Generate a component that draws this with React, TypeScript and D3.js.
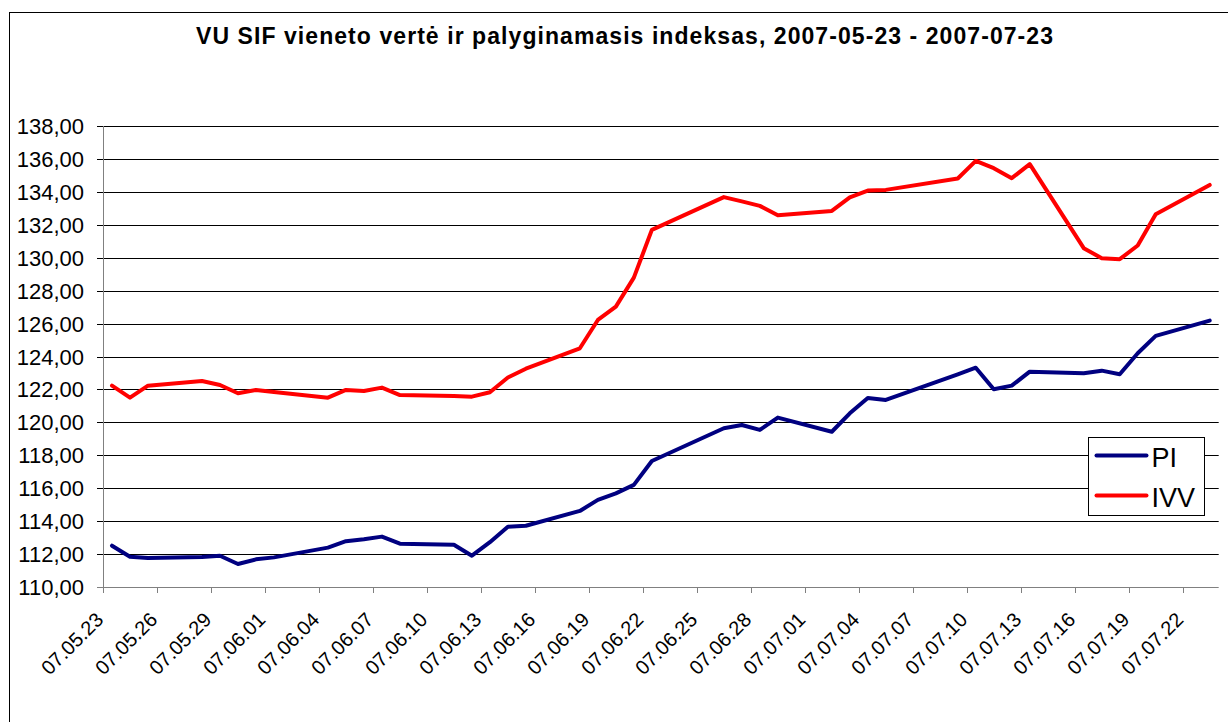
import React from "react";
import * as d3 from "d3";

const width = 1228;
const height = 722;

// trading days
const dates = [
  "2007-05-23", "2007-05-24", "2007-05-25", "2007-05-28", "2007-05-29", "2007-05-30",
  "2007-05-31", "2007-06-01", "2007-06-04", "2007-06-05", "2007-06-06", "2007-06-07",
  "2007-06-08", "2007-06-11", "2007-06-12", "2007-06-13", "2007-06-14", "2007-06-15",
  "2007-06-18", "2007-06-19", "2007-06-20", "2007-06-21", "2007-06-22", "2007-06-26",
  "2007-06-27", "2007-06-28", "2007-06-29", "2007-07-02", "2007-07-03", "2007-07-04",
  "2007-07-05", "2007-07-09", "2007-07-10", "2007-07-11", "2007-07-12", "2007-07-13",
  "2007-07-16", "2007-07-17", "2007-07-18", "2007-07-19", "2007-07-20", "2007-07-23",
];

const pi = [
  112.51, 111.84, 111.76, 111.82, 111.9, 111.4, 111.68, 111.8, 112.39, 112.78, 112.9, 113.06,
  112.63, 112.57, 111.9, 112.72, 113.66, 113.72, 114.62, 115.29, 115.69, 116.2, 117.65, 119.64,
  119.84, 119.54, 120.29, 119.43, 120.55, 121.48, 121.36, 122.92, 123.32, 122.01, 122.23, 123.08,
  122.98, 123.14, 122.92, 124.2, 125.25, 126.18,
];

const ivv = [
  122.23, 121.5, 122.23, 122.51, 122.27, 121.77, 121.97, 121.85, 121.5, 121.97, 121.91, 122.11,
  121.66, 121.6, 121.56, 121.83, 122.72, 123.26, 124.5, 126.22, 127.03, 128.79, 131.69, 133.68,
  133.42, 133.15, 132.58, 132.84, 133.66, 134.08, 134.12, 134.81, 135.88, 135.44, 134.83, 135.68,
  130.58, 129.97, 129.91, 130.74, 132.64, 134.42,
];

const yTicks = [110, 112, 114, 116, 118, 120, 122, 124, 126, 128, 130, 132, 134, 136, 138];

const seriesNames = ["PI", "IVV"];
const seriesColors = ["#000080", "#FF0000"];

const title = "VU SIF vieneto vertė ir palyginamasis indeksas, 2007-05-23 - 2007-07-23";

const margin = { left: 103, right: 1218.7, top: 126, bottom: 587 };

const parse = d3.utcParse("%Y-%m-%d");
const fmtDate = d3.utcFormat("%y.%m.%d");
const fmtY = (v: number) => d3.format(".2f")(v).replace(".", ",");

const font = "'Liberation Sans', Arial, sans-serif";

const App = () => {
  const start = parse(dates[0]) as Date;
  const end = d3.utcDay.offset(parse(dates[dates.length - 1]) as Date, 1);

  const xScale = d3.scaleUtc().domain([start, end]).range([margin.left, margin.right]);
  const yScale = d3.scaleLinear().domain([110, 138]).range([margin.bottom, margin.top]);

  // points sit in the middle of their day, like Excel's date axis
  const xOf = (s: string) => xScale(d3.utcHour.offset(parse(s) as Date, 12));

  const lineGen = d3
    .line<number>()
    .x((_, i) => xOf(dates[i]))
    .y((v) => yScale(v));

  const xTicks = d3.utcDay.range(start, d3.utcDay.offset(end, -1), 3);

  const legendX = 1088.5;
  const legendY = 437.5;

  return (
    <svg
      width={width}
      height={height}
      style={{ position: "absolute", left: 0, top: 0, background: "#fff" }}
      fontFamily={font}
    >
      <rect x={9.5} y={12.5} width={width + 20} height={height + 20} fill="#fff" stroke="#000" strokeWidth={1} />

      <text
        x={624.5}
        y={44}
        textAnchor="middle"
        fontSize={23}
        fontWeight="bold"
        textLength={857}
        lengthAdjust="spacing"
      >
        {title}
      </text>

      {yTicks.map((t) => (
        <g key={t}>
          <line
            x1={margin.left - 6}
            x2={margin.right}
            y1={Math.round(yScale(t)) + 0.5}
            y2={Math.round(yScale(t)) + 0.5}
            stroke={t === 110 ? "#808080" : "#000"}
            strokeWidth={1}
          />
          <text x={84} y={yScale(t) + 8} textAnchor="end" fontSize={22}>
            {fmtY(t)}
          </text>
        </g>
      ))}

      <line x1={margin.left + 0.5} x2={margin.left + 0.5} y1={margin.top} y2={margin.bottom} stroke="#808080" />

      {xTicks.map((d) => {
        const x = Math.round(xScale(d)) + 0.5;
        return (
          <g key={d.toISOString()}>
            <line x1={x} x2={x} y1={margin.bottom} y2={margin.bottom + 6} stroke="#808080" />
            <text
              transform={`translate(${x + 1},${margin.bottom + 34}) rotate(-45)`}
              textAnchor="end"
              fontSize={20}
            >
              {fmtDate(d)}
            </text>
          </g>
        );
      })}

      {[pi, ivv].map((vals, k) => (
        <path
          key={seriesNames[k]}
          d={lineGen(vals) || ""}
          fill="none"
          stroke={seriesColors[k]}
          strokeWidth={4}
          strokeLinejoin="round"
          strokeLinecap="round"
        />
      ))}

      <rect x={legendX} y={legendY} width={116} height={78} fill="#fff" stroke="#000" />
      {seriesNames.map((n, k) => (
        <g key={n}>
          <line
            x1={legendX + 8}
            x2={legendX + 58}
            y1={legendY + 18 + k * 40}
            y2={legendY + 18 + k * 40}
            stroke={seriesColors[k]}
            strokeWidth={4}
            strokeLinecap="round"
          />
          <text x={legendX + 63} y={legendY + 29 + k * 40} fontSize={27}>
            {n}
          </text>
        </g>
      ))}
    </svg>
  );
};

export default App;
